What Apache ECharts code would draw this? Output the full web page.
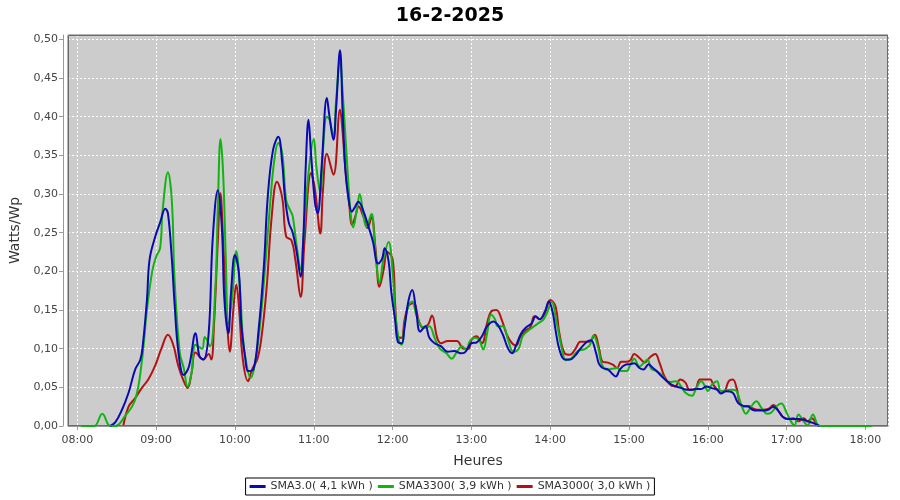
<!DOCTYPE html>
<html><head><meta charset="utf-8">
<script src="https://cdn.jsdelivr.net/npm/echarts@6/dist/echarts.min.js"></script>
<style>html,body{margin:0;padding:0;background:#fff}#c{width:900px;height:500px}</style>
</head><body><div id="c"></div>
<script>
const chartTitle = '16-2-2025';
const seriesNames = ['SMA3.0( 4,1 kWh )', 'SMA3300( 3,9 kWh )', 'SMA3000( 3,0 kWh )'];

const blueTimes = ['08:25','08:29','08:34','08:39','08:44','08:48','08:50','08:53','08:55','08:59','09:03','09:07','09:09','09:12','09:14','09:17','09:21','09:25','09:30','09:33','09:36','09:40','09:43','09:47','09:50','09:52','09:55','09:57','10:00','10:03','10:05','10:08','10:10','10:14','10:18','10:22','10:25','10:29','10:33','10:36','10:38','10:41','10:44','10:47','10:50','10:52','10:54','10:56','10:58','11:01','11:03','11:06','11:10','11:12','11:15','11:17','11:20','11:22','11:24','11:26','11:29','11:31','11:34','11:38','11:42','11:45','11:49','11:52','11:54','11:57','11:59','12:02','12:04','12:07','12:09','12:12','12:15','12:18','12:21','12:25','12:28','12:32','12:37','12:42','12:47','12:52','12:55','13:00','13:04','13:08','13:12','13:17','13:20','13:24','13:28','13:31','13:34','13:38','13:42','13:46','13:49','13:52','13:56','13:59','14:02','14:04','14:07','14:11','14:15','14:19','14:23','14:28','14:31','14:35','14:37','14:40','14:44','14:47','14:50','14:53','14:57','15:01','15:04','15:08','15:11','15:15','15:17','15:21','15:25','15:29','15:32','15:36','15:40','15:44','15:48','15:51','15:55','15:59','16:03','16:07','16:10','16:14','16:19','16:23','16:27','16:31','16:34','16:38','16:42','16:46','16:50','16:54','16:57','17:01','17:05','17:09','17:13','17:16','17:20','17:25'];
const blueValues = [0,0.005,0.021,0.043,0.073,0.086,0.107,0.163,0.215,0.243,0.263,0.281,0.275,0.215,0.159,0.095,0.066,0.077,0.12,0.09,0.086,0.12,0.24,0.305,0.258,0.163,0.12,0.172,0.221,0.198,0.129,0.086,0.071,0.073,0.124,0.206,0.297,0.357,0.374,0.34,0.297,0.263,0.25,0.225,0.193,0.24,0.34,0.396,0.35,0.288,0.275,0.335,0.424,0.40,0.37,0.41,0.486,0.406,0.333,0.30,0.277,0.282,0.29,0.277,0.256,0.239,0.21,0.216,0.23,0.213,0.174,0.136,0.109,0.107,0.126,0.161,0.176,0.148,0.122,0.129,0.114,0.107,0.103,0.096,0.097,0.094,0.095,0.107,0.108,0.116,0.129,0.135,0.131,0.118,0.10,0.094,0.104,0.12,0.128,0.133,0.142,0.138,0.148,0.161,0.146,0.125,0.099,0.086,0.086,0.091,0.10,0.109,0.111,0.094,0.081,0.075,0.073,0.068,0.064,0.073,0.079,0.08,0.081,0.075,0.073,0.08,0.077,0.071,0.064,0.058,0.054,0.051,0.049,0.047,0.047,0.048,0.048,0.051,0.049,0.047,0.042,0.045,0.043,0.03,0.026,0.025,0.021,0.02,0.02,0.021,0.025,0.019,0.012,0.009,0.009,0.009,0.008,0.006,0.004,0];

const greenTimes = ['08:03','08:08','08:13','08:19','08:25','08:29','08:36','08:44','08:49','08:53','08:57','09:00','09:03','09:05','09:09','09:12','09:14','09:18','09:21','09:24','09:27','09:30','09:35','09:37','09:41','09:45','09:47','09:49','09:51','09:53','09:55','09:58','10:01','10:04','10:06','10:09','10:12','10:15','10:19','10:23','10:27','10:30','10:33','10:36','10:39','10:42','10:44','10:47','10:50','10:52','10:56','11:00','11:02','11:05','11:07','11:10','11:12','11:15','11:17','11:20','11:22','11:25','11:28','11:30','11:33','11:35','11:38','11:40','11:44','11:46','11:48','11:50','11:53','11:57','12:00','12:02','12:05','12:07','12:09','12:12','12:15','12:18','12:22','12:25','12:28','12:32','12:36','12:41','12:45','12:49','12:53','12:56','12:59','13:03','13:06','13:09','13:12','13:15','13:18','13:20','13:24','13:28','13:32','13:36','13:39','13:43','13:47','13:51','13:55','13:58','14:01','14:05','14:09','14:12','14:16','14:21','14:26','14:30','14:33','14:37','14:39','14:43','14:47','14:51','14:54','14:58','15:01','15:04','15:08','15:11','15:14','15:17','15:21','15:25','15:29','15:32','15:36','15:39','15:43','15:48','15:51','15:55','15:58','16:00','16:03','16:07','16:10','16:14','16:19','16:22','16:26','16:29','16:33','16:37','16:41','16:45','16:48','16:52','16:56','17:00','17:04','17:06','17:09','17:13','17:16','17:20','17:24','17:27','17:32','17:37','17:42','17:47','17:52','17:57','18:02','18:05'];
const greenValues = [0,0,0,0.016,0,0,0.012,0.034,0.082,0.15,0.20,0.219,0.23,0.28,0.328,0.29,0.19,0.095,0.075,0.051,0.069,0.105,0.10,0.115,0.103,0.176,0.284,0.371,0.327,0.219,0.133,0.168,0.226,0.172,0.116,0.078,0.062,0.078,0.129,0.206,0.292,0.344,0.366,0.353,0.292,0.279,0.271,0.233,0.202,0.24,0.327,0.371,0.335,0.301,0.357,0.40,0.396,0.374,0.42,0.473,0.432,0.35,0.277,0.257,0.282,0.30,0.27,0.258,0.274,0.245,0.205,0.185,0.215,0.238,0.20,0.148,0.109,0.105,0.129,0.155,0.161,0.144,0.129,0.127,0.129,0.114,0.10,0.094,0.087,0.096,0.103,0.098,0.11,0.114,0.111,0.099,0.12,0.144,0.138,0.129,0.129,0.111,0.096,0.10,0.116,0.123,0.128,0.133,0.138,0.148,0.161,0.133,0.099,0.085,0.087,0.097,0.099,0.104,0.117,0.098,0.081,0.073,0.074,0.075,0.071,0.071,0.079,0.087,0.077,0.081,0.086,0.074,0.071,0.066,0.058,0.057,0.058,0.053,0.043,0.039,0.048,0.058,0.051,0.045,0.053,0.058,0.045,0.046,0.047,0.045,0.025,0.016,0.025,0.032,0.023,0.016,0.017,0.025,0.029,0.017,0.004,0.001,0.015,0.006,0.001,0.015,0.001,0,0,0,0,0,0,0,0,0];

const redTimes = ['08:35','08:39','08:44','08:49','08:54','08:59','09:04','09:09','09:13','09:17','09:21','09:24','09:27','09:30','09:36','09:40','09:42','09:44','09:47','09:49','09:51','09:54','09:56','09:59','10:01','10:03','10:06','10:10','10:13','10:17','10:20','10:24','10:28','10:32','10:36','10:39','10:43','10:46','10:50','10:53','10:58','11:01','11:05','11:07','11:10','11:15','11:20','11:22','11:24','11:27','11:29','11:32','11:34','11:38','11:41','11:44','11:47','11:50','11:53','11:56','12:00','12:02','12:04','12:07','12:09','12:12','12:16','12:20','12:23','12:27','12:30','12:34','12:37','12:42','12:49','12:54','12:58','13:00','13:04','13:08','13:12','13:15','13:19','13:23','13:27','13:31','13:34','13:37','13:41','13:45','13:48','13:52','13:56','14:00','14:04','14:07','14:11','14:15','14:19','14:23','14:26','14:30','14:34','14:37','14:40','14:44','14:48','14:51','14:54','14:58','15:01','15:04','15:08','15:12','15:16','15:20','15:23','15:27','15:31','15:35','15:39','15:43','15:46','15:50','15:54','15:58','16:02','16:04','16:08','16:12','16:16','16:19','16:22','16:24','16:27','16:31','16:34','16:38','16:42','16:46','16:50','16:54','16:57','17:01','17:05','17:09','17:13','17:16','17:19','17:23'];
const redValues = [0,0.025,0.036,0.049,0.06,0.077,0.10,0.118,0.105,0.077,0.058,0.049,0.069,0.095,0.086,0.093,0.086,0.129,0.24,0.301,0.24,0.137,0.096,0.155,0.183,0.155,0.086,0.058,0.073,0.086,0.112,0.176,0.271,0.316,0.295,0.245,0.24,0.215,0.167,0.24,0.327,0.305,0.249,0.305,0.352,0.325,0.409,0.38,0.333,0.287,0.26,0.273,0.284,0.27,0.256,0.27,0.23,0.18,0.20,0.225,0.216,0.157,0.116,0.114,0.136,0.155,0.159,0.136,0.127,0.131,0.143,0.114,0.107,0.11,0.11,0.10,0.10,0.111,0.116,0.107,0.133,0.148,0.150,0.138,0.118,0.107,0.104,0.114,0.123,0.128,0.142,0.138,0.146,0.163,0.155,0.12,0.094,0.092,0.099,0.109,0.109,0.109,0.118,0.102,0.083,0.082,0.079,0.075,0.083,0.083,0.085,0.093,0.088,0.082,0.089,0.093,0.083,0.064,0.054,0.051,0.06,0.056,0.047,0.047,0.06,0.06,0.06,0.054,0.046,0.044,0.058,0.06,0.049,0.032,0.025,0.026,0.023,0.021,0.021,0.022,0.027,0.019,0.012,0.009,0.01,0.006,0.01,0.006,0.01,0];

const base = new Date(2025, 1, 16).getTime();
function ts(hhmm) { const p = hhmm.split(':').map(Number); return base + (p[0] * 60 + p[1]) * 60000; }
function pairs(times, vals) { return times.map((t, i) => [ts(t), vals[i]]); }
function pad(n) { return (n < 10 ? '0' : '') + n; }

const FONT = 'DejaVu Sans';
const GRID = { left: 68, right: 12, top: 35, bottom: 74 };
const W = 900, H = 500;
const chart = echarts.init(document.getElementById('c'), null, { renderer: 'canvas' });
const xMin = ts('07:52') + 54000;
const xMax = ts('18:17') + 12000;

chart.setOption({
  animation: false,
  backgroundColor: '#ffffff',
  title: {
    text: chartTitle, left: 'center', top: 2,
    textStyle: { fontFamily: FONT, fontSize: 19, fontWeight: 'bold', color: '#000' }
  },
  legend: {
    data: seriesNames, left: 'center', top: 478,
    icon: 'rect', itemWidth: 16, itemHeight: 3, itemGap: 5,
    borderColor: '#000', borderWidth: 1, borderRadius: 0, padding: [3, 4],
    backgroundColor: '#fff',
    textStyle: { fontFamily: FONT, fontSize: 11, color: '#333' }
  },
  grid: {
    left: GRID.left, right: GRID.right, top: GRID.top, bottom: GRID.bottom,
    show: true, backgroundColor: '#cccccc', borderColor: '#6a6a6a', borderWidth: 1
  },
  graphic: [{
    type: 'rect', silent: true, z: 100,
    shape: { x: GRID.left + 0.5, y: GRID.top + 0.5, width: W - GRID.left - GRID.right - 1, height: H - GRID.top - GRID.bottom - 1 },
    style: { fill: null, stroke: '#6a6a6a', lineWidth: 1 }
  }],
  xAxis: {
    type: 'time', min: xMin, max: xMax,
    minInterval: 3600000, maxInterval: 3600000,
    offset: 4,
    name: 'Heures', nameLocation: 'middle', nameGap: 24,
    nameTextStyle: { fontFamily: FONT, fontSize: 14, color: '#333' },
    axisLine: { show: true, lineStyle: { color: '#999', width: 1 } },
    axisTick: { show: true, length: 4, lineStyle: { color: '#999' } },
    axisLabel: {
      fontFamily: FONT, fontSize: 11, color: '#444', margin: 5,
      showMinLabel: false, showMaxLabel: false,
      formatter: function (v) { const d = new Date(v); return pad(d.getHours()) + ':' + pad(d.getMinutes()); }
    },
    splitLine: { show: true, lineStyle: { color: '#ffffff', type: [2, 2], width: 1 } }
  },
  yAxis: {
    type: 'value', min: 0, max: 0.5056, interval: 0.05,
    offset: 5,
    name: 'Watts/Wp', nameLocation: 'middle', nameGap: 34, nameRotate: 90,
    nameTextStyle: { fontFamily: FONT, fontSize: 14, color: '#333' },
    axisLine: { show: true, lineStyle: { color: '#999', width: 1 } },
    axisTick: { show: true, length: 4, lineStyle: { color: '#999' } },
    axisLabel: {
      fontFamily: FONT, fontSize: 11, color: '#444', margin: 5,
      showMaxLabel: false,
      formatter: function (v) { return v.toFixed(2).replace('.', ','); }
    },
    splitLine: { show: true, lineStyle: { color: '#ffffff', type: [2, 2], width: 1 } }
  },
  series: [
    { name: seriesNames[0], type: 'line', data: pairs(blueTimes, blueValues), smooth: 0.4, showSymbol: false,
      lineStyle: { width: 2, color: '#0a0ab4' }, itemStyle: { color: '#0a0ab4' }, z: 5 },
    { name: seriesNames[1], type: 'line', data: pairs(greenTimes, greenValues), smooth: 0.4, showSymbol: false,
      lineStyle: { width: 2, color: '#12b412' }, itemStyle: { color: '#12b412' }, z: 4 },
    { name: seriesNames[2], type: 'line', data: pairs(redTimes, redValues), smooth: 0.4, showSymbol: false,
      lineStyle: { width: 2, color: '#b41212' }, itemStyle: { color: '#b41212' }, z: 3 }
  ]
});
</script></body></html>
